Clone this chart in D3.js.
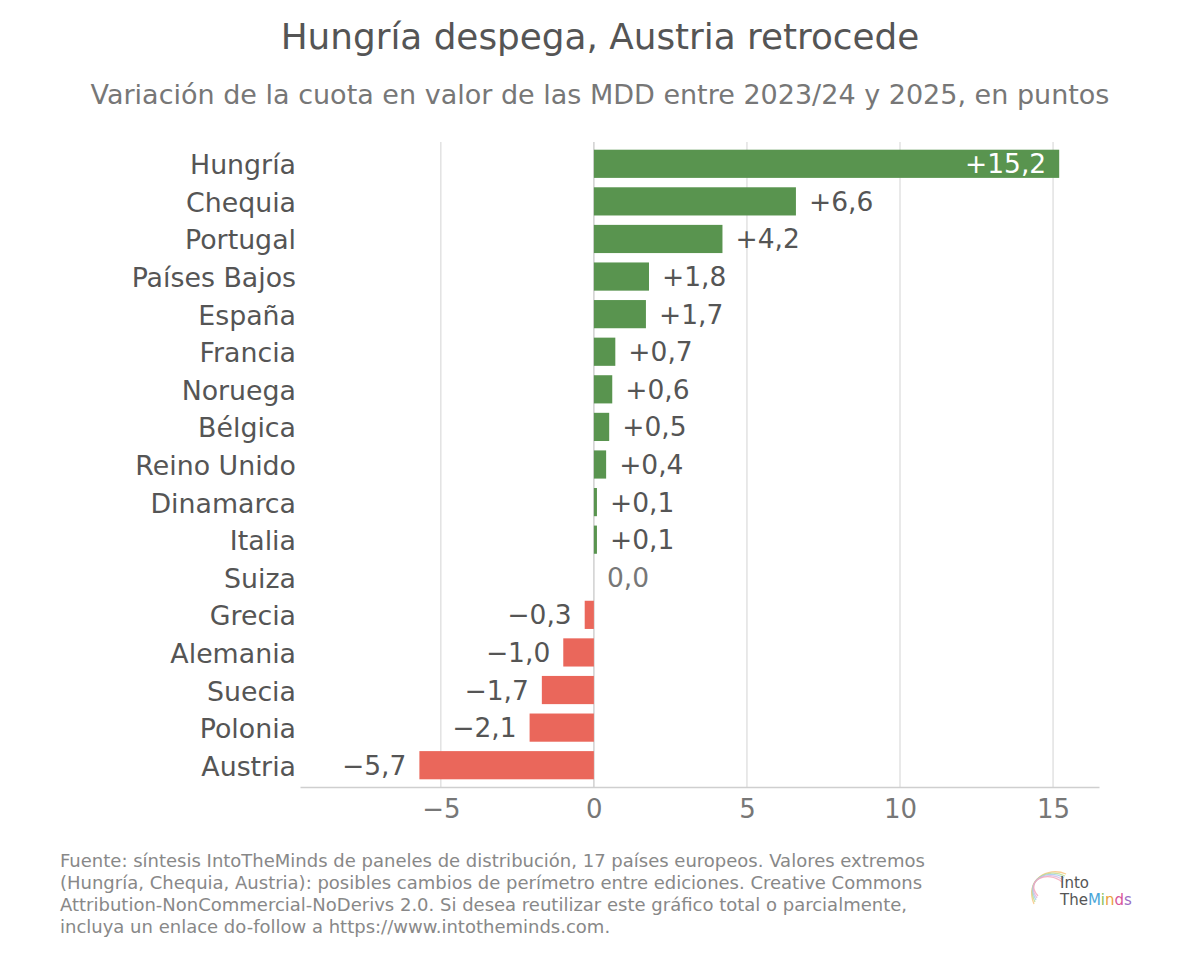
<!DOCTYPE html>
<html><head><meta charset="utf-8">
<script src="https://cdn.jsdelivr.net/npm/d3@7"></script>
<style>body{margin:0;background:#fff;font-family:"DejaVu Sans",sans-serif}</style>
</head><body><svg id="c" width="1200" height="956"></svg>
<script>
const countries = ["Hungría","Chequia","Portugal","Países Bajos","España","Francia","Noruega","Bélgica","Reino Unido","Dinamarca","Italia","Suiza","Grecia","Alemania","Suecia","Polonia","Austria"];
const values = [15.2,6.6,4.2,1.8,1.7,0.7,0.6,0.5,0.4,0.1,0.1,0.0,-0.3,-1.0,-1.7,-2.1,-5.7];
const xTicks = [-5,0,5,10,15];
const title = "Hungría despega, Austria retrocede";
const subtitle = "Variación de la cuota en valor de las MDD entre 2023/24 y 2025, en puntos";
const footer = ["Fuente: síntesis IntoTheMinds de paneles de distribución, 17 países europeos. Valores extremos",
"(Hungría, Chequia, Austria): posibles cambios de perímetro entre ediciones. Creative Commons",
"Attribution-NonCommercial-NoDerivs 2.0. Si desea reutilizar este gráfico total o parcialmente,",
"incluya un enlace do-follow a https://www.intotheminds.com."];

const svg = d3.select("#c");
const font = "DejaVu Sans";
const L = 300, R = 1099, T = 142, B = 787;
const x = d3.scaleLinear().domain([-9.6, 16.5]).range([L, R]);
const y = d3.scaleBand().domain(countries).range([145, 784]).paddingInner(0.25).paddingOuter(0.125);
const data = countries.map((c,i)=>({c, v:values[i]}));
const fmt = v => (v>0?"+":v<0?"\u2212":"") + Math.abs(v).toFixed(1).replace(".",",");

svg.append("text").attr("x",600).attr("y",49).attr("text-anchor","middle")
  .attr("font-family",font).attr("font-size",35.8).attr("fill","#555").text(title);
svg.append("text").attr("x",600).attr("y",104).attr("text-anchor","middle")
  .attr("font-family",font).attr("font-size",27).attr("fill","#777").text(subtitle);

// grid
svg.append("g").selectAll("line").data(xTicks).join("line")
  .attr("x1",d=>x(d)).attr("x2",d=>x(d)).attr("y1",T).attr("y2",B)
  .attr("stroke",d=>d===0?"#d0d0d0":"#e2e2e2").attr("stroke-width",1.5);

// bars
svg.append("g").selectAll("rect").data(data).join("rect")
  .attr("x",d=>x(Math.min(0,d.v))).attr("width",d=>Math.abs(x(d.v)-x(0)))
  .attr("y",d=>y(d.c)).attr("height",y.bandwidth())
  .attr("fill",d=>d.v>=0?"#59944f":"#ea675b");

// value labels
svg.append("g").selectAll("text").data(data).join("text")
  .attr("font-family",font).attr("font-size",26.5)
  .attr("dominant-baseline","central")
  .attr("y",d=>y(d.c)+y.bandwidth()/2)
  .attr("x",d=>{
    if (d.v>10) return x(d.v)-13;
    if (d.v<0) return x(d.v)-13;
    return x(d.v)+13;
  })
  .attr("text-anchor",d=>(d.v>10||d.v<0)?"end":"start")
  .attr("fill",d=>d.v>10?"#fff":(d.v===0?"#777":"#555"))
  .text(d=>fmt(d.v));

// category labels
svg.append("g").selectAll("text").data(countries).join("text")
  .attr("font-family",font).attr("font-size",26.8).attr("fill","#555")
  .attr("text-anchor","end").attr("dominant-baseline","central")
  .attr("x",296).attr("y",d=>y(d)+y.bandwidth()/2+1).text(d=>d);

// x axis
const ax = svg.append("g").attr("transform",`translate(0,${B})`)
  .call(d3.axisBottom(x).tickValues(xTicks).tickSize(0).tickPadding(13)
    .tickFormat(d=>d<0?"\u2212"+Math.abs(d):String(d)));
ax.select(".domain").attr("stroke","#cfcfcf").attr("stroke-width",1.5);
ax.selectAll("text").attr("font-family",font).attr("font-size",26).attr("fill","#777");

// footer
svg.append("g").selectAll("text").data(footer).join("text")
  .attr("font-family",font).attr("font-size",18).attr("fill","#888")
  .attr("x",60).attr("y",(d,i)=>867+i*22).text(d=>d);

// logo
const lg = svg.append("g").attr("transform","translate(1030,868)");
const cols = ["#f6c37a","#b9d98f","#9ecbe8","#d8b3e0","#f3a6b8"];
cols.forEach((c,i)=>{
  lg.append("path").attr("d",`M${4+i} ${36-i*2} C ${-6} ${12}, ${18} ${-2+i}, ${36-i} ${6+i*2}`)
    .attr("fill","none").attr("stroke",c).attr("stroke-width",1.3).attr("opacity",0.8);
});
lg.append("text").attr("x",30).attr("y",20).attr("font-family",font).attr("font-size",15).attr("fill","#555").text("Into");
const t2 = lg.append("text").attr("x",30).attr("y",37).attr("font-family",font).attr("font-size",15).attr("fill","#555");
t2.append("tspan").text("The");
[["M","#4aa6d9"],["i","#8cc05a"],["n","#e9a23b"],["d","#d9579a"],["s","#9b6fc4"]].forEach(([ch,c])=>t2.append("tspan").attr("fill",c).text(ch));
</script></body></html>
